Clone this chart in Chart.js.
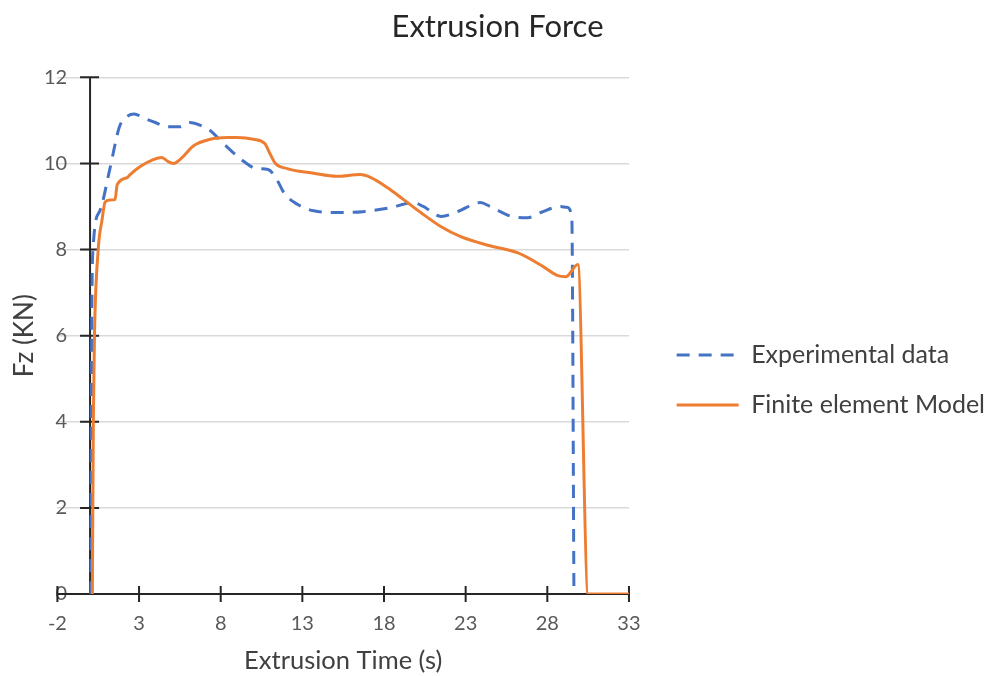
<!DOCTYPE html>
<html lang="en">
<head>
    <meta charset="UTF-8">
    <title>Extrusion Force</title>
    <script src="https://cdn.jsdelivr.net/npm/chart.js"></script>
    <style>
        html, body {
            margin: 0;
            padding: 0;
            background-color: #ffffff;
        }
        .grafico {
            width: 995px;
            height: 676px;
            position: relative;
        }
    </style>
</head>
<body>
    <div class="grafico">
        <canvas id="forcaCanvas"></canvas>
    </div>

    <script>
        // Experimental data (time in s, force in kN)
        const expTime = [0.05, 0.1, 0.18, 0.6, 1.2, 1.8, 2.3, 2.7, 3.3, 4.0, 4.7, 5.5, 6.1, 6.8, 7.3,
            8.2, 9.4, 10.2, 10.9, 11.4, 11.9, 12.7, 13.7, 15.3, 16.7, 18.4, 19.8, 20.4, 21.5,
            22.5, 23.9, 24.5, 25.8, 26.8, 27.6, 28.8, 29.2, 29.5, 29.63];
        const expForce = [0, 6.0, 8.0, 8.9, 9.85, 10.85, 11.1, 11.15, 11.05, 10.95, 10.85, 10.85, 10.95, 10.88, 10.78,
            10.45, 10.05, 9.88, 9.86, 9.65, 9.3, 9.05, 8.9, 8.86, 8.88, 8.97, 9.09, 9.0, 8.77,
            8.88, 9.09, 9.0, 8.77, 8.74, 8.86, 9.0, 8.98, 8.75, 0];

        // Finite element model
        const femTime = [0.14, 0.2, 0.27, 0.5, 0.74, 0.92, 1.2, 1.53, 1.66, 2.27, 2.45, 3.07, 3.87, 4.4, 4.75,
            5.1, 5.7, 6.3, 7.36, 8.4, 9.0, 10.0, 10.7, 11.05, 11.35, 12.07, 13.7, 15.1, 16.55,
            17.2, 18.2, 19.2, 20.25, 21.5, 22.7, 24.35, 26.2, 27.6, 28.6, 29.14, 29.87, 30.5, 33];
        const femForce = [0, 4.0, 6.0, 8.0, 8.7, 9.1, 9.15, 9.16, 9.5, 9.67, 9.74, 9.93, 10.09, 10.14, 10.05,
            10.0, 10.16, 10.4, 10.56, 10.6, 10.6, 10.56, 10.46, 10.2, 10.0, 9.88, 9.77, 9.7, 9.74,
            9.67, 9.44, 9.16, 8.86, 8.53, 8.3, 8.1, 7.92, 7.64, 7.4, 7.37, 7.65, 0, 0];

        const xTicks = [-2, 3, 8, 13, 18, 23, 28, 33];
        const yTicks = [0, 2, 4, 6, 8, 10, 12];

        // value labels hang a little left of the axis line (in seconds)
        const rotuloY = -1.4;

        const pares = (xs, ys) => xs.map((x, i) => ({ x: x, y: ys[i] }));

        // Axes crossing at zero with tick marks on both sides (Excel style)
        const eixosCruzados = {
            id: 'eixosCruzados',
            beforeDatasetsDraw(chart) {
                const { ctx, chartArea, scales } = chart;
                const x0 = scales.x.getPixelForValue(0);
                const y0 = scales.y.getPixelForValue(0);
                ctx.save();
                ctx.strokeStyle = '#262626';
                ctx.lineWidth = 2;
                ctx.beginPath();
                ctx.moveTo(chartArea.left, y0);
                ctx.lineTo(chartArea.right, y0);
                ctx.moveTo(x0, chartArea.top);
                ctx.lineTo(x0, chartArea.bottom);
                xTicks.forEach(v => {
                    const px = scales.x.getPixelForValue(v);
                    ctx.moveTo(px, y0 - 8);
                    ctx.lineTo(px, y0 + 8);
                });
                yTicks.forEach(v => {
                    const py = scales.y.getPixelForValue(v);
                    ctx.moveTo(x0 - 10, py);
                    ctx.lineTo(x0 + 9, py);
                });
                ctx.stroke();
                ctx.restore();
            }
        };

        Chart.defaults.font.family = 'Lato, "Open Sans", sans-serif';

        // legend samples take dash / width from the dataset, not from its points
        const legendaLinhas = chart => {
            const itens = Chart.defaults.plugins.legend.labels.generateLabels(chart);
            itens.forEach(it => {
                const ds = chart.data.datasets[it.datasetIndex];
                it.lineDash = ds.borderDash || [];
                it.lineWidth = ds.borderWidth;
                it.strokeStyle = ds.borderColor;
            });
            return itens;
        };

        const ctx = document.getElementById('forcaCanvas').getContext('2d');
        new Chart(ctx, {
            type: 'line',
            data: {
                datasets: [{
                    label: 'Experimental data',
                    data: pares(expTime, expForce),
                    borderColor: '#4472C4',
                    backgroundColor: '#4472C4',
                    borderWidth: 3,
                    borderDash: [13, 9],
                    pointRadius: 0,
                    cubicInterpolationMode: 'monotone',
                    fill: false,
                    xAxisID: 'x',
                    yAxisID: 'y',
                    order: 2
                }, {
                    label: 'Finite element Model',
                    data: pares(femTime, femForce),
                    borderColor: '#ED7D31',
                    backgroundColor: '#ED7D31',
                    borderWidth: 3,
                    pointRadius: 0,
                    cubicInterpolationMode: 'monotone',
                    fill: false,
                    xAxisID: 'x',
                    yAxisID: 'y',
                    order: 1
                }]
            },
            options: {
                responsive: true,
                maintainAspectRatio: false,
                animation: false,
                layout: { padding: { left: 0, right: 0, top: 0, bottom: 0 } },
                plugins: {
                    title: {
                        display: true,
                        text: 'Extrusion Force',
                        color: '#262626',
                        font: { size: 31, weight: 'normal' },
                        padding: { top: 8.4, bottom: 31.7 }
                    },
                    legend: {
                        position: 'right',
                        align: 'center',
                        maxWidth: 400,
                        title: {
                            display: true,
                            text: '',
                            font: { size: 10 },
                            padding: { top: 0, bottom: 72 }
                        },
                        labels: {
                            usePointStyle: true,
                            pointStyle: 'line',
                            pointStyleWidth: 62,
                            color: '#404040',
                            font: { size: 25 },
                            padding: 25,
                            generateLabels: legendaLinhas,
                            sort: (a, b) => a.datasetIndex - b.datasetIndex
                        }
                    },
                    tooltip: { enabled: false }
                },
                scales: {
                    x: {
                        type: 'linear',
                        position: 'bottom',
                        min: -2,
                        max: 33,
                        afterBuildTicks: s => { s.ticks = xTicks.map(v => ({ value: v })); },
                        afterFit: s => { s.height = 82; },
                        grid: { display: false, drawTicks: false },
                        border: { display: false },
                        ticks: {
                            color: '#595959',
                            font: { size: 20 },
                            padding: 18,
                            maxRotation: 0,
                            autoSkip: false
                        },
                        title: {
                            display: true,
                            text: 'Extrusion Time (s)',
                            color: '#404040',
                            font: { size: 25.5 },
                            padding: { top: 0, bottom: 0 }
                        }
                    },
                    y: {
                        type: 'linear',
                        position: 'left',
                        min: 0,
                        max: 12,
                        afterBuildTicks: s => { s.ticks = yTicks.map(v => ({ value: v })); },
                        afterFit: s => { s.width = 57.4; },
                        grid: { color: '#d9d9d9', lineWidth: 1.5, drawTicks: false },
                        border: { display: false },
                        ticks: { display: false },
                        title: {
                            display: true,
                            text: 'Fz (KN)',
                            color: '#404040',
                            font: { size: 26 },
                            padding: { top: 9.4, bottom: 0 }
                        }
                    },
                    // tick labels of the value axis
                    yRotulos: {
                        type: 'linear',
                        axis: 'y',
                        position: { x: rotuloY },
                        min: 0,
                        max: 12,
                        afterBuildTicks: s => { s.ticks = yTicks.map(v => ({ value: v })); },
                        grid: { display: false, drawTicks: false },
                        border: { display: false },
                        ticks: {
                            color: '#595959',
                            font: { size: 20 },
                            padding: 0
                        }
                    },
                    // empty scale: just keeps a gap between the plot and the legend
                    folga: {
                        type: 'linear',
                        position: 'right',
                        display: true,
                        grid: { display: false, drawTicks: false },
                        border: { display: false },
                        ticks: { display: false },
                        afterFit: s => { s.width = 22.7; }
                    }
                }
            },
            plugins: [eixosCruzados]
        });
    </script>
</body>
</html>
